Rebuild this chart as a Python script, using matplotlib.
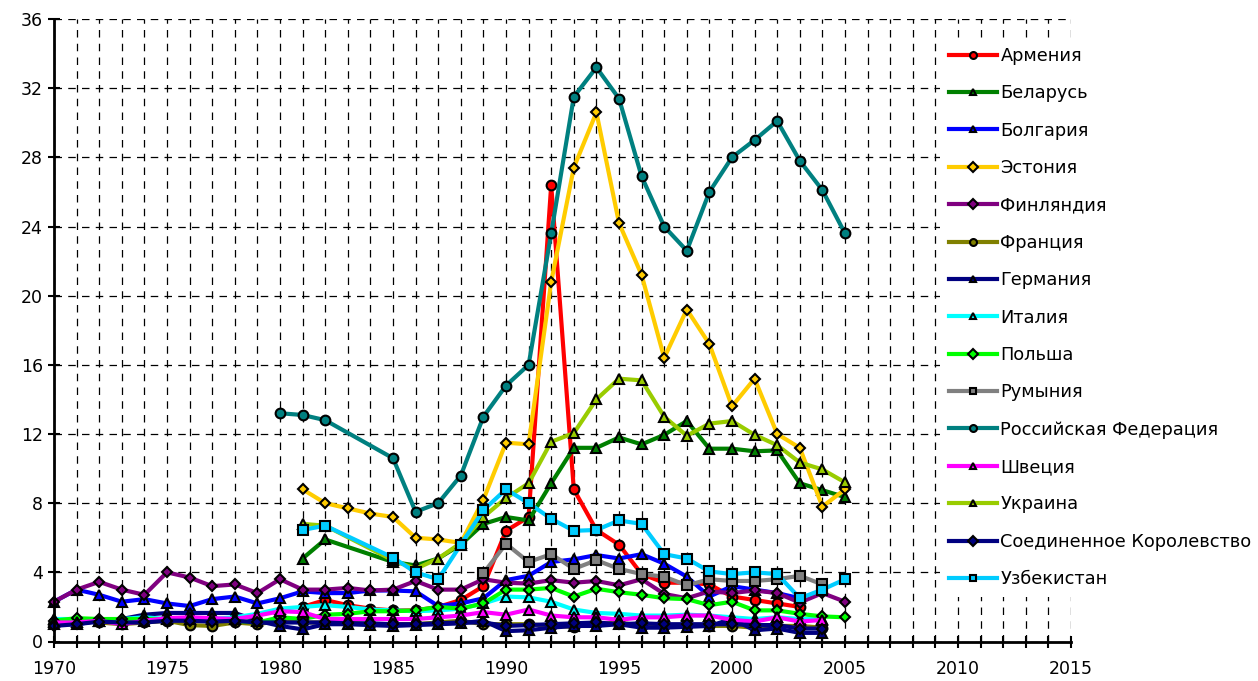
import numpy as np
import matplotlib
matplotlib.use("Agg")
import matplotlib.pyplot as plt
from matplotlib.ticker import MultipleLocator

nan = np.nan
years = list(range(1970, 2006))

armenia = [nan]*11 + [2.0, 2.4, 2.1, 1.9, 1.8, 1.8, 2.0, 2.4, 3.2, 6.4, 7.2, 26.4, 8.8, 6.45, 5.6,
                      3.9, 3.4, 3.4, 3.3, 2.6, 2.4, 2.2, 2.0, nan, nan]
belarus = [nan]*11 + [4.8, 5.9, nan, nan, 4.6, 4.4, 4.8, 5.6, 6.8, 7.2, 7.0, 9.15, 11.2, 11.2, 11.8,
                      11.4, 11.95, 12.75, 11.15, 11.15, 11.0, 11.05, 9.15, 8.75, 8.35]
bulgaria = [2.3, 3.0, 2.7, 2.3, 2.45, 2.2, 2.05, 2.45, 2.6, 2.2, 2.5, 2.9, 2.8, 2.8, 2.95, 2.95, 2.9,
            2.05, 2.2, 2.5, 3.55, 3.8, 4.6, 4.75, 5.0, 4.8, 5.05, 4.5, 3.75, 2.6, 3.2, 3.0, 2.8, 2.5,
            nan, nan]
estonia = [nan]*11 + [8.8, 8.0, 7.7, 7.4, 7.2, 6.0, 5.9, 5.7, 8.2, 11.5, 11.4, 20.8, 27.4, 30.6, 24.2,
                      21.2, 16.4, 19.2, 17.2, 13.6, 15.2, 12.0, 11.2, 7.8, 8.8]
finland = [2.3, 3.0, 3.45, 3.0, 2.7, 4.0, 3.7, 3.2, 3.3, 2.8, 3.6, 3.0, 3.0, 3.1, 2.95, 3.0, 3.5, 3.0,
           3.0, 3.6, 3.4, 3.35, 3.55, 3.4, 3.5, 3.25, 3.6, 2.75, 2.5, 2.9, 2.8, 2.95, 2.8, 2.25, 2.8,
           2.3]
france = [1.1, 1.2, 1.1, 1.0, 1.1, 1.2, 0.95, 0.9, 1.1, 1.0, 1.2, 1.1, 1.1, 1.1, 1.0, 1.0, 1.0, 1.1,
          1.2, 1.0, 1.0, 1.0, 0.9, 0.85, 1.0, 1.1, 0.9, 0.9, 0.9, 0.9, 0.9, 0.8, 0.9, 0.9, 0.8, nan]
germany = [1.0, 1.0, 1.2, 1.3, 1.55, 1.65, 1.65, 1.65, 1.65, 1.2, 0.9, 0.7, 1.0, 1.0, 0.95, 0.9, 0.95,
           1.0, 1.05, 1.2, 0.6, 0.65, 0.8, 0.9, 0.9, 1.0, 0.8, 0.8, 0.85, 0.9, 1.3, 0.65, 0.75, 0.5,
           0.5, nan]
italy = [1.3, 1.3, 1.2, 1.3, 1.4, 1.3, 1.3, 1.3, 1.4, 1.6, 1.9, 2.0, 2.1, 2.0, 1.85, 1.8, 1.75, 1.8,
         1.9, 2.2, 2.6, 2.55, 2.3, 1.85, 1.65, 1.6, 1.5, 1.5, 1.55, 1.5, 1.4, 1.3, 1.4, 1.3, 1.3, nan]
poland = [1.2, 1.35, 1.3, 1.3, 1.3, 1.3, 1.3, 1.3, 1.2, 1.1, 1.4, 1.3, 1.55, 1.6, 1.75, 1.75, 1.8, 2.0,
          1.9, 2.2, 3.0, 3.0, 3.1, 2.6, 3.05, 2.85, 2.7, 2.5, 2.45, 2.1, 2.3, 1.8, 1.8, 1.6, 1.45, 1.4]
romania = [nan]*19 + [3.95, 5.65, 4.6, 5.05, 4.2, 4.7, 4.2, 3.9, 3.75, 3.25, 3.6, 3.5, 3.5, 3.6, 3.8,
                      3.3, nan]
russia = [nan]*10 + [13.2, 13.1, 12.8, nan, nan, 10.6, 7.5, 8.0, 9.6, 13.0, 14.8, 16.0, 23.6, 31.5,
                     33.2, 31.4, 26.9, 24.0, 22.6, 26.0, 28.0, 29.0, 30.1, 27.8, 26.1, 23.6]
sweden = [1.1, 1.1, 1.2, 1.0, 1.2, 1.35, 1.4, 1.35, 1.3, 1.5, 1.75, 1.7, 1.3, 1.3, 1.3, 1.3, 1.3, 1.4,
          1.5, 1.7, 1.55, 1.85, 1.5, 1.4, 1.4, 1.25, 1.4, 1.4, 1.5, 1.5, 1.25, 1.15, 1.4, 1.15, 1.25, nan]
ukraine = [nan]*11 + [6.8, 6.7, nan, nan, 4.7, 4.2, 4.8, 5.7, 7.2, 8.3, 9.15, 11.55, 12.05, 14.0, 15.2,
                      15.1, 13.0, 11.9, 12.6, 12.75, 11.95, 11.35, 10.35, 9.95, 9.2]
uk = [0.9, 1.0, 1.15, 1.1, 1.1, 1.2, 1.2, 1.15, 1.2, 1.1, 1.1, 1.1, 1.1, 1.05, 1.05, 1.0, 1.0, 1.05,
      1.1, 1.1, 0.9, 0.95, 1.0, 1.05, 1.1, 1.0, 1.05, 1.0, 1.0, 1.0, 1.0, 0.95, 0.95, 0.75, 0.75, nan]
uzbekistan = [nan]*11 + [6.45, 6.7, nan, nan, 4.85, 4.0, 3.6, 5.6, 7.6, 8.8, 8.0, 7.1, 6.4, 6.45, 7.0,
                         6.8, 5.05, 4.8, 4.05, 3.9, 4.0, 3.9, 2.5, 3.0, 3.6]

series = [
    ("Армения", armenia, "#FF0000", "o"),
    ("Беларусь", belarus, "#008000", "^"),
    ("Болгария", bulgaria, "#0000FF", "^"),
    ("Эстония", estonia, "#FFCC00", "D"),
    ("Финляндия", finland, "#800080", "D"),
    ("Франция", france, "#808000", "o"),
    ("Германия", germany, "#000080", "^"),
    ("Италия", italy, "#00FFFF", "^"),
    ("Польша", poland, "#00FF00", "D"),
    ("Румыния", romania, "#808080", "s"),
    ("Российская Федерация", russia, "#008080", "o"),
    ("Швеция", sweden, "#FF00FF", "^"),
    ("Украина", ukraine, "#99CC00", "^"),
    ("Соединенное Королевство", uk, "#000080", "D"),
    ("Узбекистан", uzbekistan, "#00CCFF", "s"),
]

plt.rcParams['font.family'] = ['DejaVu Sans']
fig = plt.figure(figsize=(12.58, 6.81), dpi=100)
ax = fig.add_axes([54/1258, 39.5/681, (1071-54)/1258, (641.5-19)/681])

yrs = np.array(years)
for label, vals, color, marker in series:
    v = np.array(vals, dtype=float)
    ok = ~np.isnan(v)
    ms = 5.5 if marker == "D" else 7
    ax.plot(yrs[ok], v[ok], color=color, lw=3, marker=marker, markersize=ms,
            markerfacecolor=color, markeredgecolor="black", markeredgewidth=1.5,
            label=label, clip_on=False)

ax.set_xlim(1970, 2015)
ax.set_ylim(0, 36)
ax.xaxis.set_major_locator(MultipleLocator(5))
ax.xaxis.set_minor_locator(MultipleLocator(1))
ax.yaxis.set_major_locator(MultipleLocator(4))
ax.grid(which='minor', axis='x', color='black', lw=0.9, ls=(0, (6, 5)))
ax.grid(which='major', axis='x', color='black', lw=0.9, ls=(0, (6, 5)))
ax.grid(which='major', axis='y', color='black', lw=0.9, ls=(0, (6, 5)))
ax.set_axisbelow(True)
ax.tick_params(axis='both', which='both', direction='inout', length=9, width=1.5, labelsize=12.5)
ax.tick_params(axis='x', pad=9)
for s in ['top', 'right']:
    ax.spines[s].set_visible(False)
for s in ['left', 'bottom']:
    ax.spines[s].set_linewidth(2)

leg = fig.legend(loc='upper left', bbox_to_anchor=(940/1258, 1 - 38/681), fontsize=12.8,
                 frameon=True, facecolor='white', edgecolor='none', framealpha=1,
                 handlelength=2.7, handletextpad=0.2, labelspacing=1.09, borderpad=0.5,
                 numpoints=1, borderaxespad=0)
for h in leg.legend_handles:
    h.set_markersize(5)

fig.savefig("out.png", dpi=100)
